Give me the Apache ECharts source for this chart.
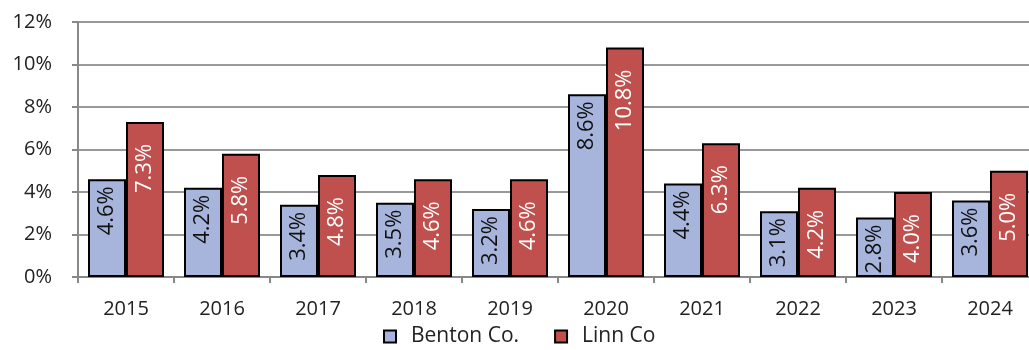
<!DOCTYPE html>
<html>
<head>
<meta charset="utf-8">
<script src="https://cdn.jsdelivr.net/npm/echarts@6/dist/echarts.min.js"></script>
<style>
  html, body { margin: 0; padding: 0; background: #ffffff; }
  #chart { width: 1029px; height: 350px; }
</style>
</head>
<body>
<div id="chart"></div>
<script>
// Annual rates by county, 2015–2024
const years = ['2015', '2016', '2017', '2018', '2019', '2020', '2021', '2022', '2023', '2024'];
const bentonRates = [4.6, 4.2, 3.4, 3.5, 3.2, 8.6, 4.4, 3.1, 2.8, 3.6];
const linnRates = [7.3, 5.8, 4.8, 4.6, 4.6, 10.8, 6.3, 4.2, 4.0, 5.0];
const seriesNames = ['Benton Co.', 'Linn Co'];

const FONT = '"Open Sans", sans-serif';

// Rotated value label hung from the top of each bar, pushed down by `drop` px.
// The offset is in the label's rotated frame, so "down" is its negative x.
function barLabel(color, drop) {
  return {
    show: true,
    position: 'insideTop',
    rotate: 90,
    align: 'right',
    verticalAlign: 'middle',
    distance: 0,
    offset: [-drop, 0],
    color: color,
    fontFamily: FONT,
    fontSize: 22,
    formatter: p => p.value.toFixed(1) + '%'
  };
}

const chart = echarts.init(document.getElementById('chart'), null, { renderer: 'canvas' });
chart.setOption({
  animation: false,
  backgroundColor: '#ffffff',
  grid: { left: 78, top: 22, width: 960, height: 255, containLabel: false, outerBoundsMode: 'none' },
  legend: {
    data: seriesNames,
    top: 326,
    left: 383,
    padding: 0,
    itemWidth: 12,
    itemHeight: 12,
    itemGap: 35,
    icon: 'rect',
    textStyle: { fontFamily: FONT, fontSize: 21, color: '#222', padding: [0, 0, 0, 10] }
  },
  xAxis: {
    type: 'category',
    data: years,
    axisLine: { lineStyle: { color: '#888', width: 2 } },
    axisTick: { show: true, length: 6, lineStyle: { color: '#888', width: 2 } },
    axisLabel: { margin: 22, fontFamily: FONT, fontSize: 20, color: '#222' }
  },
  yAxis: {
    type: 'value',
    min: 0,
    max: 12,
    interval: 2,
    axisLine: { show: true, lineStyle: { color: '#888', width: 2 } },
    axisTick: { show: true, length: 6, lineStyle: { color: '#888', width: 2 } },
    splitLine: { lineStyle: { color: '#999', width: 2 } },
    axisLabel: { margin: 26, fontFamily: FONT, fontSize: 20, color: '#222', formatter: v => v + '%' }
  },
  series: [
    {
      name: seriesNames[0],
      type: 'bar',
      data: bentonRates,
      barWidth: 38,
      barGap: '0%',
      itemStyle: { color: '#A7B5DD', borderColor: '#000', borderWidth: 2 },
      label: barLabel('#111', 7)
    },
    {
      name: seriesNames[1],
      type: 'bar',
      data: linnRates,
      barWidth: 38,
      barGap: '0%',
      itemStyle: { color: '#C0504D', borderColor: '#000', borderWidth: 2 },
      label: barLabel('#ffffff', 22)
    }
  ]
});
</script>
</body>
</html>
